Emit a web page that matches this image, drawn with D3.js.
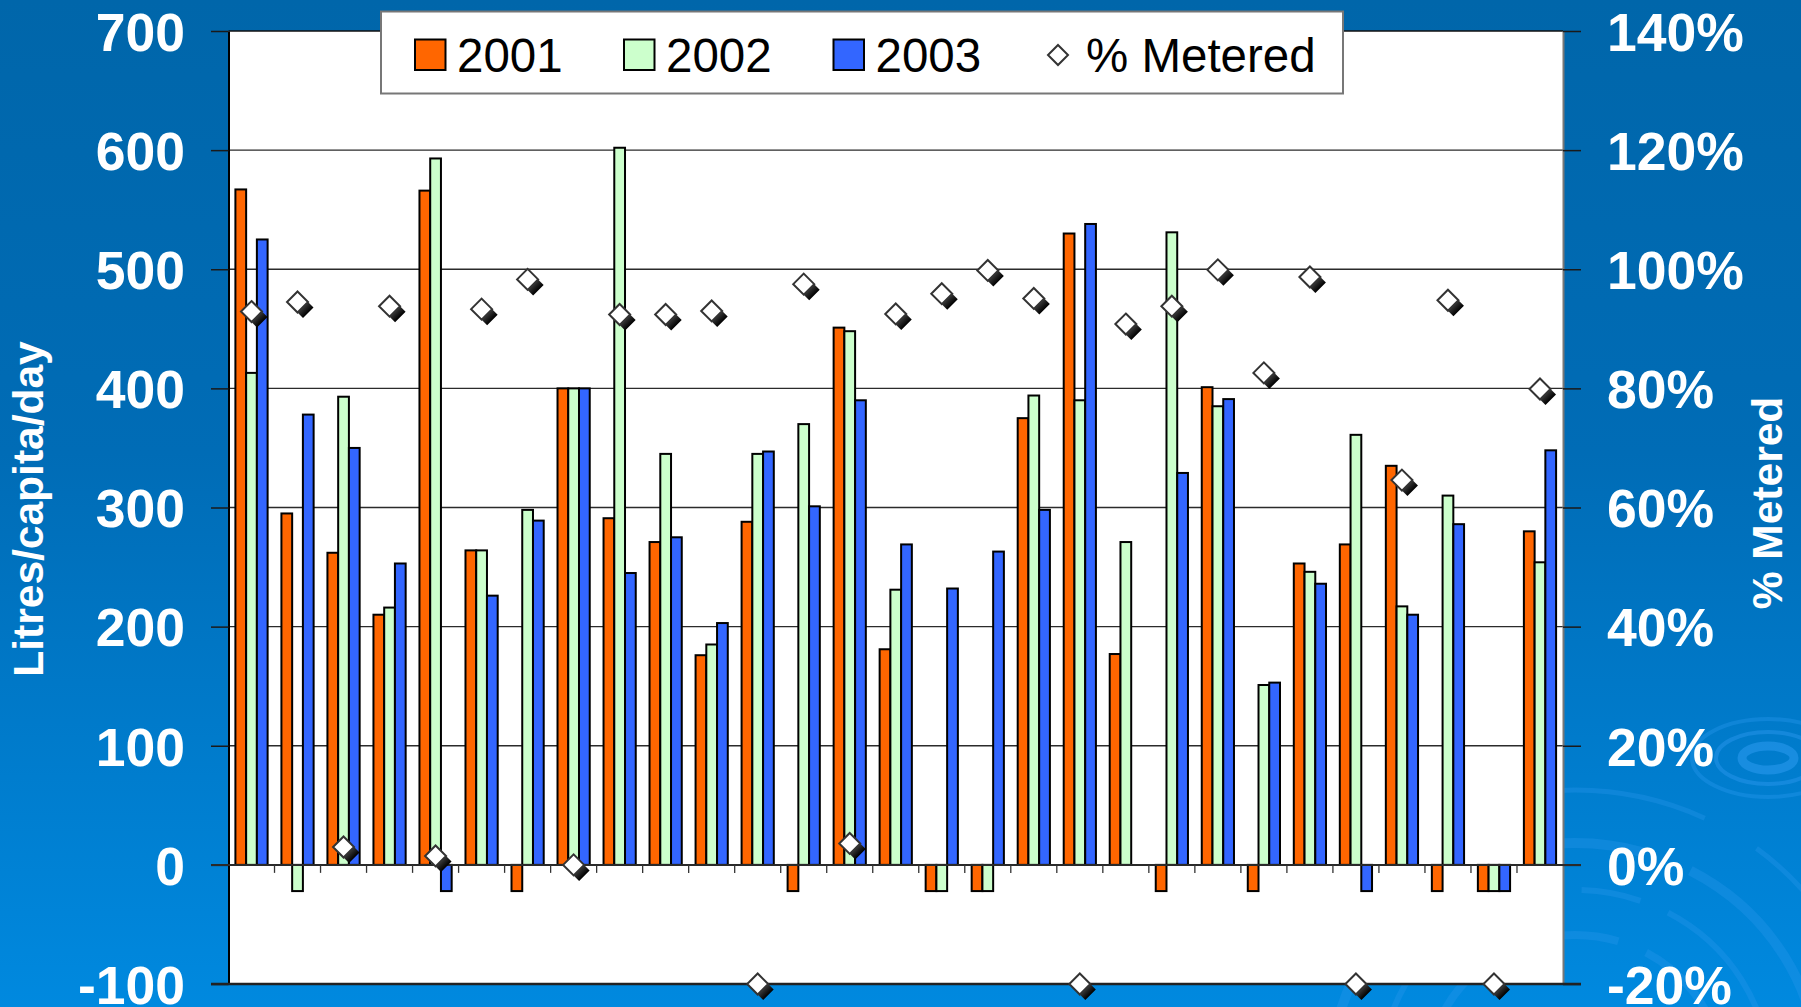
<!DOCTYPE html>
<html>
<head>
<meta charset="utf-8">
<script src="https://cdn.jsdelivr.net/npm/d3@7"></script>
<style>
  html, body { margin: 0; padding: 0; overflow: hidden; background: #0070bb; }
  text { font-family: "Liberation Sans", Arial, Helvetica, sans-serif; }
</style>
</head>
<body>
<svg id="chart" width="1801" height="1007"></svg>
<script>
// ---- data ---------------------------------------------------------------
const categories = ["1","2","3","4","5","6","7","8","9","10","11","12","13","14","15",
                    "16","17","18","19","20","21","22","23","24","25","26","27","28","29"];
const years = ["2001", "2002", "2003"];
// litres per capita per day (-22 marks a year without a reading)
const use2001 = [567, 295, 262, 210, 566, 264, -22, 400, 291, 271, 176, 288, -22, 451, 181,
                 -22, -22, 375, 530, 177, -22, 401, -22, 253, 269, 335, -22, -22, 280];
const use2002 = [413, -22, 393, 216, 593, 264, 298, 400, 602, 345, 185, 345, 370, 448, 231,
                 -22, -22, 394, 390, 271, 531, 385, 151, 246, 361, 217, 310, -22, 254];
const use2003 = [525, 378, 350, 253, -22, 226, 289, 400, 245, 275, 203, 347, 301, 390, 269,
                 232, 263, 298, 538, null, 329, 391, 153, 236, -22, 210, 286, -22, 348];
// share of households metered, percent
const pctMetered = [92.9, 94.5, 3.0, 93.8, 1.5, 93.3, 98.3, 0, 92.4, 92.4, 93.0, -20, 97.5, 3.6, 92.5,
                    95.9, 99.8, 95.1, -20, 90.8, 93.8, 99.9, 82.6, 98.7, -20, 64.6, 94.8, -20, 79.9];
const leftTicks = [-100, 0, 100, 200, 300, 400, 500, 600, 700];
const rightTicks = [-20, 0, 20, 40, 60, 80, 100, 120, 140];

const seriesValues = { "2001": use2001, "2002": use2002, "2003": use2003 };
const seriesColor = { "2001": "#FF6600", "2002": "#CCFFCC", "2003": "#3366FF" };

// ---- layout ---------------------------------------------------------------
const W = 1801, H = 1007;
const plot = { left: 228.5, right: 1563, top: 31, bottom: 984 };

const svg = d3.select("#chart");
const defs = svg.append("defs");

const bg = defs.append("linearGradient").attr("id", "bg")
  .attr("x1", 0).attr("y1", 0).attr("x2", 0).attr("y2", 1);
bg.append("stop").attr("offset", 0).attr("stop-color", "#0066AA");
bg.append("stop").attr("offset", 0.45).attr("stop-color", "#006CB6");
bg.append("stop").attr("offset", 1).attr("stop-color", "#0089DF");

const shade = defs.append("linearGradient").attr("id", "markerShade")
  .attr("x1", 0).attr("y1", 0).attr("x2", 1).attr("y2", 1);
shade.append("stop").attr("offset", 0.4).attr("stop-color", "#6a6a6a");
shade.append("stop").attr("offset", 0.8).attr("stop-color", "#000");

svg.append("rect").attr("width", W).attr("height", H).attr("fill", "url(#bg)");

// water ripples in the lower right corner
const ripples = svg.append("g").attr("fill", "none");
[[26, 12, 9, 0.55], [52, 26, 4, 0.45], [76, 39, 4, 0.35]].forEach(([rx, ry, sw, op]) => {
  ripples.append("ellipse").attr("cx", 1768).attr("cy", 758).attr("rx", rx).attr("ry", ry)
    .attr("stroke", "#2c9af0").attr("stroke-width", sw).attr("stroke-opacity", op);
});
[[140, 8, "120 30"], [185, 6, "200 40 60 30"], [232, 10, "260 50"], [285, 5, "150 60 90 40"]]
  .forEach(([r, sw, dash]) => {
    ripples.append("ellipse").attr("cx", 1575).attr("cy", 1075).attr("rx", r * 1.05).attr("ry", r)
      .attr("stroke", "#2a98ee").attr("stroke-width", sw).attr("stroke-opacity", 0.33)
      .attr("stroke-dasharray", dash);
  });

// ---- scales ---------------------------------------------------------------
const y = d3.scaleLinear().domain([-100, 700]).range([plot.bottom, plot.top]);
const y2 = d3.scaleLinear().domain([-20, 140]).range([plot.bottom, plot.top]);
const x = d3.scaleBand().domain(categories).range([plot.left, plot.right])
  .paddingInner(0.3).paddingOuter(0.15);
const xs = d3.scaleBand().domain(years).range([0, x.bandwidth()]);

// plot area
svg.append("rect")
  .attr("x", plot.left).attr("y", plot.top)
  .attr("width", plot.right - plot.left).attr("height", plot.bottom - plot.top)
  .attr("fill", "#fff");

// horizontal gridlines
svg.append("g").selectAll("line")
  .data(leftTicks.filter(d => d > 0))
  .join("line")
  .attr("x1", plot.left).attr("x2", plot.right)
  .attr("y1", d => y(d)).attr("y2", d => y(d))
  .attr("stroke", d => d === 700 ? "#111" : "#2b2b2b")
  .attr("stroke-width", 1.3);

// ---- bars -----------------------------------------------------------------
const barG = svg.append("g");
years.forEach(yr => {
  const vals = seriesValues[yr];
  barG.append("g").selectAll("rect")
    .data(categories.map((c, i) => ({ c, v: vals[i] })).filter(d => d.v !== null))
    .join("rect")
    .attr("x", d => x(d.c) + xs(yr))
    .attr("width", xs.bandwidth())
    .attr("y", d => Math.min(y(d.v), y(0)))
    .attr("height", d => Math.abs(y(d.v) - y(0)))
    .attr("fill", seriesColor[yr])
    .attr("stroke", "#000")
    .attr("stroke-width", 2);
});

// ---- axes -----------------------------------------------------------------
const fmtLeft = d => d < 0 ? "-" + Math.abs(d) : String(d);
const fmtRight = d => (d < 0 ? "-" + Math.abs(d) : String(d)) + "%";

const leftAxis = svg.append("g").attr("transform", `translate(${plot.left},0)`)
  .call(d3.axisLeft(y).tickValues(leftTicks).tickSize(17.5).tickSizeOuter(0)
    .tickPadding(26).tickFormat(fmtLeft));
leftAxis.select(".domain").attr("stroke", "#000").attr("stroke-width", 2);
leftAxis.selectAll(".tick line").attr("stroke", "#1a1a1a").attr("stroke-width", 1.5);

const rightAxis = svg.append("g").attr("transform", `translate(${plot.right},0)`)
  .call(d3.axisRight(y2).tickValues(rightTicks).tickSize(18).tickSizeOuter(0)
    .tickPadding(26).tickFormat(fmtRight));
rightAxis.select(".domain").attr("stroke", "#777").attr("stroke-width", 2);
rightAxis.selectAll(".tick line").attr("stroke", "#1a1a1a").attr("stroke-width", 1.5);

[leftAxis, rightAxis].forEach(g => {
  g.selectAll(".tick text")
    .attr("fill", "#fff")
    .attr("font-size", 53.5)
    .attr("font-weight", "bold")
    .attr("dy", "0.36em");
});

// category axis along zero, bottom border
svg.append("line")
  .attr("x1", plot.left - 17.5).attr("x2", plot.right + 18)
  .attr("y1", y(0)).attr("y2", y(0))
  .attr("stroke", "#2a2a2a").attr("stroke-width", 2);
svg.append("line")
  .attr("x1", plot.left - 17.5).attr("x2", plot.right + 18)
  .attr("y1", y(-100)).attr("y2", y(-100))
  .attr("stroke", "#222").attr("stroke-width", 2.5);

const boundaries = categories.slice(1).map(c => x(c) - x.step() * x.paddingInner() / 2);
svg.append("g").selectAll("line")
  .data(boundaries)
  .join("line")
  .attr("x1", d => d).attr("x2", d => d)
  .attr("y1", y(0)).attr("y2", y(0) + 8)
  .attr("stroke", "#333").attr("stroke-width", 1.3);

// ---- % metered markers ------------------------------------------------------
const r = 10.5, off = 5.5;
const markerG = svg.append("g");
categories.forEach((c, i) => {
  const cx = x(c) + x.bandwidth() / 2, cy = y2(pctMetered[i]);
  const g = markerG.append("g").attr("transform", `translate(${cx},${cy})`);
  g.append("path")
    .attr("d", `M${-r},0L0,${-r}L${r + off},${off}L${off},${r + off}Z`)
    .attr("fill", "url(#markerShade)");
  g.append("path")
    .attr("d", `M0,${-r}L${r},0L0,${r}L${-r},0Z`)
    .attr("fill", "#fff").attr("stroke", "#333").attr("stroke-width", 2);
});

// ---- axis titles ------------------------------------------------------------
svg.append("text")
  .attr("transform", "translate(43,509) rotate(-90)")
  .attr("text-anchor", "middle")
  .attr("fill", "#fff").attr("font-size", 42.5).attr("font-weight", "bold")
  .text("Litres/capita/day");
svg.append("text")
  .attr("transform", "translate(1782,503) rotate(-90)")
  .attr("text-anchor", "middle")
  .attr("fill", "#fff").attr("font-size", 42.5).attr("font-weight", "bold")
  .text("% Metered");

// ---- legend -----------------------------------------------------------------
const legend = svg.append("g");
legend.append("rect")
  .attr("x", 381).attr("y", 11.5).attr("width", 962).attr("height", 82)
  .attr("fill", "#fff").attr("stroke", "#777").attr("stroke-width", 2);

const legendPos = { "2001": 415, "2002": 624, "2003": 833.5 };
years.forEach(yr => {
  legend.append("rect")
    .attr("x", legendPos[yr]).attr("y", 39.5).attr("width", 30.5).attr("height", 30.5)
    .attr("fill", seriesColor[yr]).attr("stroke", "#000").attr("stroke-width", 2);
  legend.append("text")
    .attr("x", legendPos[yr] + 42).attr("y", 72)
    .attr("font-size", 47.5).attr("fill", "#000")
    .text(yr);
});
legend.append("path")
  .attr("transform", "translate(1058,55)")
  .attr("d", `M0,-10L10,0L0,10L-10,0Z`)
  .attr("fill", "#fff").attr("stroke", "#333").attr("stroke-width", 2);
legend.append("text")
  .attr("x", 1086).attr("y", 72)
  .attr("font-size", 47.5).attr("fill", "#000")
  .text("% Metered");
</script>
</body>
</html>
